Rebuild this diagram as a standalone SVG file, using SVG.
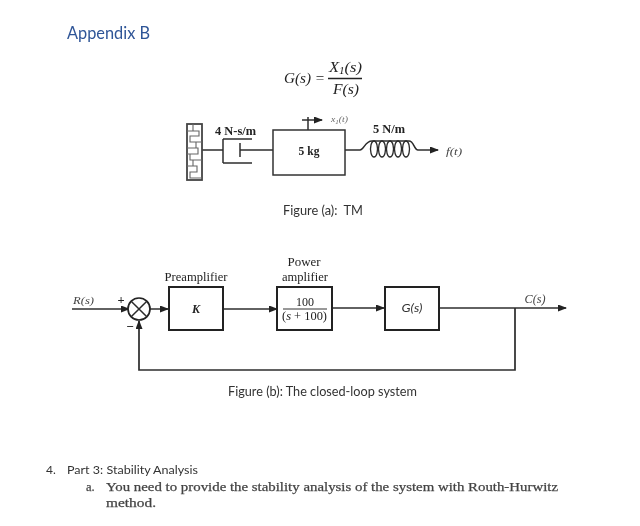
<svg xmlns="http://www.w3.org/2000/svg" width="640" height="526" viewBox="0 0 640 526">
<style>
.ln{fill:none;stroke:#2b2b2b;stroke-width:1.500}
.bx{fill:#fff;stroke:#222;stroke-width:2}
.c{font-family:Lato,"Liberation Sans",sans-serif;fill:#333}
.s{font-family:"Liberation Serif",serif;fill:#222}
.b{font-weight:bold}
.i{font-style:italic}
.m{text-anchor:middle}
.p{fill:#444;stroke:#444;stroke-width:.25}
</style>
<defs>
<marker id="a" markerWidth="9" markerHeight="7" refX="8" refY="3.500" orient="auto" markerUnits="userSpaceOnUse"><path d="M0 0L9 3.500L0 7Z" fill="#222"/></marker>
<filter id="soft" x="-5%" y="-5%" width="110%" height="110%"><feGaussianBlur stdDeviation="0.35"/></filter>
</defs>
<rect width="640" height="526" fill="#fff"/>
<g filter="url(#soft)">
<text x="67" y="39" class="c" font-size="17" style="fill:#2f5597" textLength="83" lengthAdjust="spacingAndGlyphs">Appendix B</text>

<g id="formula">
<text x="284" y="83" class="s i" font-size="14" textLength="41" lengthAdjust="spacingAndGlyphs">G(s) =</text>
<text x="329" y="72" class="s i" font-size="14" textLength="33" lengthAdjust="spacingAndGlyphs">X<tspan font-size="9.500" dy="2">1</tspan><tspan dy="-2">(s)</tspan></text>
<line x1="328" y1="78.500" x2="362" y2="78.500" stroke="#222" stroke-width="1.300"/>
<text x="333" y="94" class="s i" font-size="14" textLength="26" lengthAdjust="spacingAndGlyphs">F(s)</text>
</g>

<g id="connectors">
<path class="ln" d="M202 150H223M223 139V163M223 139H252M223 163H252M240 143V157M240 150H273"/>
<path class="ln" d="M345 150H360C364 150 365 141 372 141H409C414 141 414 150 418 150"/>
<path class="ln" style="stroke-width:1.300" d="M374 141a3.500 8 0 1 0 0.010 0M382 141a3.500 8 0 1 0 0.010 0M390 141a3.500 8 0 1 0 0.010 0M398 141a3.500 8 0 1 0 0.010 0M406 141a3.500 8 0 1 0 0.010 0"/>
<path class="ln" d="M418 150H438" marker-end="url(#a)"/>
<path class="ln" d="M308 130V117"/>
<path class="ln" d="M302 120H322" marker-end="url(#a)"/>
<path class="ln" d="M72 309H129" marker-end="url(#a)"/>
<path class="ln" d="M150 309H168" marker-end="url(#a)"/>
<path class="ln" d="M223 309H277" marker-end="url(#a)"/>
<path class="ln" d="M332 308H384" marker-end="url(#a)"/>
<path class="ln" d="M439 308H566" marker-end="url(#a)"/>
<path class="ln" d="M515 308V370H139V321" marker-end="url(#a)" style="stroke-width:1.700"/>
</g>

<g id="wall">
<rect x="187" y="124" width="15" height="56" fill="#fff" stroke="#444" stroke-width="1.800"/>
<path d="M187 131H199V136H190V142H202M187 148H198V154H187M190 154V160H202M187 166H197V172H190V178H202M193 124V131M196 142V148M193 160V166" fill="none" stroke="#666" stroke-width="1.100"/>
</g>
<text x="215" y="135" class="s b" font-size="12" textLength="41" lengthAdjust="spacingAndGlyphs">4 N-s/m</text>

<g id="mass">
<rect x="273" y="130" width="72" height="45" fill="#fff" stroke="#333" stroke-width="1.500"/>
<text x="309" y="155" class="s b m" font-size="11.500">5 kg</text>
</g>
<text x="373" y="133" class="s b" font-size="12" textLength="32" lengthAdjust="spacingAndGlyphs">5 N/m</text>
<text x="331" y="122" class="s i" font-size="9" style="fill:#666" textLength="17" lengthAdjust="spacingAndGlyphs">x<tspan font-size="6.500" dy="1.500">1</tspan><tspan dy="-1.500">(t)</tspan></text>
<text x="446" y="155" class="s i" font-size="9.500" textLength="16" lengthAdjust="spacingAndGlyphs" style="fill:#444">f(t)</text>
<text x="283" y="215" class="c" font-size="12.500" textLength="80" lengthAdjust="spacingAndGlyphs" xml:space="preserve">Figure (a):  TM</text>

<g id="sum">
<circle cx="139" cy="309" r="11" fill="#fff" stroke="#222" stroke-width="1.700"/>
<path class="ln" d="M131.200 301.200L146.800 316.800M146.800 301.200L131.200 316.800"/>
</g>
<text x="73" y="304" class="s i" font-size="11" textLength="21" lengthAdjust="spacingAndGlyphs" style="fill:#444">R(s)</text>
<text x="121" y="304" class="s b m" font-size="12.500">+</text>
<text x="130" y="331" class="s b m" font-size="13">−</text>

<g id="preamp">
<rect x="169" y="287" width="54" height="43" class="bx"/>
<text x="196" y="313" class="s i b m" font-size="12">K</text>
<text x="196" y="281" class="s m" font-size="12.500" textLength="63" lengthAdjust="spacingAndGlyphs">Preamplifier</text>
</g>
<g id="poweramp">
<rect x="277" y="287" width="55" height="43" class="bx"/>
<text x="305" y="306" class="s m" font-size="12">100</text>
<line x1="283" y1="309" x2="327" y2="309" stroke="#333" stroke-width="1"/>
<text x="304.500" y="320" class="s m" font-size="12" textLength="45" lengthAdjust="spacingAndGlyphs">(<tspan font-style="italic">s</tspan> + 100)</text>
<text x="304" y="266" class="s m" font-size="12" textLength="33" lengthAdjust="spacingAndGlyphs">Power</text>
<text x="305" y="281" class="s m" font-size="12" textLength="46" lengthAdjust="spacingAndGlyphs">amplifier</text>
</g>
<g id="plant">
<rect x="385" y="287" width="54" height="43" class="bx"/>
<text x="412" y="312" class="c i m" font-size="12" textLength="21" lengthAdjust="spacingAndGlyphs">G(s)</text>
</g>
<text x="535" y="303" class="s i m" font-size="11.500" textLength="21" lengthAdjust="spacingAndGlyphs" style="fill:#444">C(s)</text>
<text x="228" y="396" class="c" font-size="12.500" textLength="189" lengthAdjust="spacingAndGlyphs">Figure (b): The closed-loop system</text>

<text x="46" y="474" class="c" font-size="12">4.</text>
<text x="67" y="474" class="c" font-size="12" textLength="131" lengthAdjust="spacingAndGlyphs">Part 3: Stability Analysis</text>
<text x="86" y="491" class="s p" font-size="12.500">a.</text>
<text x="106" y="491" class="s p" font-size="13" textLength="452" lengthAdjust="spacingAndGlyphs">You need to provide the stability analysis of the system with Routh-Hurwitz</text>
<text x="106" y="507" class="s p" font-size="13" textLength="50" lengthAdjust="spacingAndGlyphs">method.</text>
</g>
</svg>
